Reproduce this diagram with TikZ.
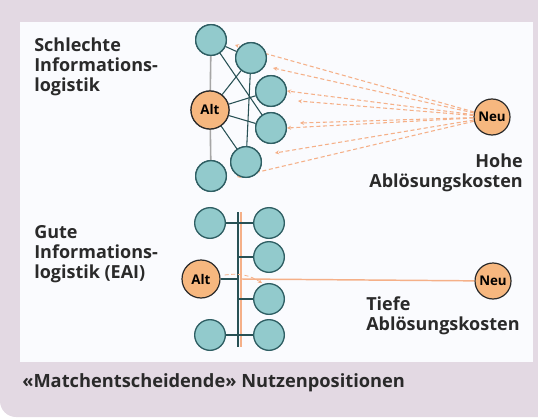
\documentclass[tikz,border=0pt]{standalone}
\usepackage{fontspec}
\setmainfont{Open Sans}
\usetikzlibrary{arrows.meta}

\definecolor{frameLila}{HTML}{E3D9E3}
\definecolor{panelWhite}{HTML}{FAFBFE}
\definecolor{tealFill}{HTML}{92CACC}
\definecolor{tealEdge}{HTML}{2F5F64}
\definecolor{altFill}{HTML}{F6B77F}
\definecolor{fanOrange}{HTML}{F5B088}
\definecolor{inkGrey}{HTML}{2A2A2A}

\begin{document}
\begin{tikzpicture}[
  x=0.75pt, y=-0.75pt,
  font=\bfseries\fontsize{13.5}{15}\selectfont,
  sys/.style={circle, draw=tealEdge, fill=tealFill, line width=1pt,
              minimum size=23pt, inner sep=0pt},
  old/.style={circle, draw=inkGrey, fill=altFill, line width=0.9pt,
              minimum size=28.5pt, inner sep=0pt,
              font=\bfseries\fontsize{10}{12}\selectfont},
  lbl/.style={align=left, inner sep=0pt, text=inkGrey},
  spoke/.style={draw=tealEdge!85!black, line width=0.8pt},
  stem/.style={draw=gray!70, line width=1.2pt},
  fan/.style={draw=fanOrange, line width=0.8pt, densely dashed,
              -{Stealth[length=3pt, width=3pt]}},
]
\useasboundingbox (0,0) rectangle (538,417);
% frame and panel
\fill[frameLila] (0,0) -- (538,0) -- (538,417)
  {[rounded corners=12] -- (0,417) -- (0,300)} -- cycle;
\fill[panelWhite] (20,22) rectangle (533,362);

% Schlechte Informationslogistik
\node[lbl, anchor=north west] (badtxt) at (34,38)
  {Schlechte\\Informations-\\logistik};
\node[sys] (a1) at (211,40) {};
\node[sys] (a2) at (251,58) {};
\node[sys] (a3) at (271,91) {};
\node[sys] (a4) at (271,128) {};
\node[sys] (a5) at (246,162) {};
\node[sys] (a6) at (211,176) {};
\node[old] (alt1) at (210,110) {Alt};
\node[old, minimum size=27pt] (neu1) at (492,117) {Neu};
\node[lbl, anchor=north east, align=right] (hohe) at (523,154)
  {Hohe\\Ablösungskosten};
% wiring of the old system
\draw[stem] (a1) -- (alt1) -- (a6);
\draw[spoke] (a1) -- (a2);
\draw[spoke] (a1) -- (a4);
\draw[spoke] (a2) -- (a5);
\draw[spoke] (alt1) -- (a2);
\draw[spoke] (alt1) -- (a3);
\draw[spoke] (alt1) -- (a4);
\draw[spoke] (alt1) -- (a5);
% replacement paths
\coordinate (f1) at (235,45);
\coordinate (f2) at (273,68);
\coordinate (f3) at (287,91);
\coordinate (f4) at (298,101);
\coordinate (f5) at (300,123);
\coordinate (f6) at (287,128);
\coordinate (f7) at (275,153);
\coordinate (f8) at (237,177);
\foreach \f in {f1,f2,f3,f4,f5,f6,f7,f8}
  \draw[fan] (neu1) -- (\f);
% redraw the systems on top
\foreach \n in {a1,a2,a3,a4,a5,a6}
  \node[sys] at (\n) {};
\node[old] at (alt1) {Alt};

% Gute Informationslogistik (EAI)
\node[lbl, anchor=north west] (goodtxt) at (34,225)
  {Gute\\Informations-\\logistik (EAI)};
\coordinate (bustop) at (238,212);
\coordinate (busbot) at (238,347);
\draw[draw=fanOrange, line width=0.9pt] (241,212) -- (241,347);
\draw[spoke, line width=1pt] (bustop) -- (busbot);
\node[sys] (b1) at (210,223) {};
\node[sys] (b2) at (210,335) {};
\node[sys] (c1) at (269,223) {};
\node[sys] (c2) at (269,257) {};
\node[sys] (c3) at (269,299) {};
\node[sys] (c4) at (269,335) {};
\node[old] (alt2) at (201,279) {Alt};
\node[old, minimum size=27pt] (neu2) at (493,281) {Neu};
\foreach \n in {b1,b2,alt2}
  \draw[spoke] (\n.east) -- (\n -| bustop);
\foreach \n in {c1,c2,c3,c4}
  \draw[spoke] (\n.west) -- (\n -| bustop);
\coordinate (hub) at (241,279);
\draw[draw=fanOrange, line width=1.1pt] (hub) -- (neu2);
\coordinate (hubtip) at (262,283);
\draw[fan, line width=0.6pt] (alt2.east) ++(4,-4) to[bend left=20] (hubtip);
\node[lbl, anchor=north west] (tiefe) at (366,296)
  {Tiefe\\Ablösungskosten};

% caption
\node[lbl, anchor=west, font=\bfseries\fontsize{13.7}{16}\selectfont]
  (caption) at (22,383) {«Matchentscheidende» Nutzenpositionen};
\end{tikzpicture}
\end{document}
